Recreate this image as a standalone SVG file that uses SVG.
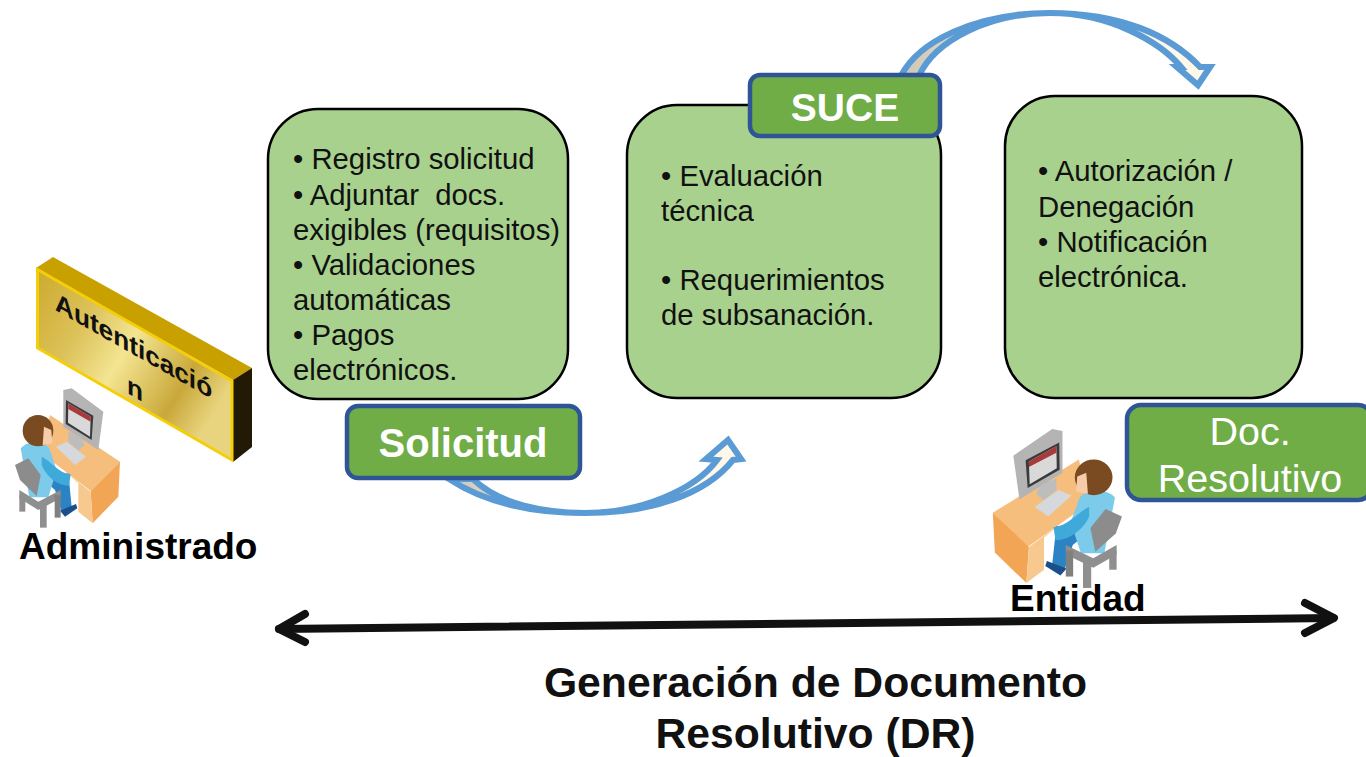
<svg xmlns="http://www.w3.org/2000/svg" xmlns:xlink="http://www.w3.org/1999/xlink" width="1366" height="757" viewBox="0 0 1366 757">
<style>
text{font-family:"Liberation Sans",Arial,sans-serif;white-space:pre}
.box{fill:#A9D18E;stroke:#000;stroke-width:2.5}
.body{font-size:29.3px;fill:#111}
.tag{fill:#70AD47;stroke:#2F5597;stroke-width:4.5}
.tagt{fill:#fff;text-anchor:middle}
.b{font-weight:700}
.lab{font-weight:700;fill:#000;font-size:37px}
.curve{stroke:#5B9BD5;stroke-width:6.2;stroke-linejoin:miter}
.axis{fill:none;stroke:#111;stroke-width:8;stroke-linecap:round;stroke-linejoin:round}
</style>
<defs>
<linearGradient id="gold" x1="0" y1="0" x2="1" y2="0.6">
<stop offset="0" stop-color="#CDAA2E"/><stop offset="0.3" stop-color="#DCC25A"/><stop offset="0.52" stop-color="#F4E592"/><stop offset="0.82" stop-color="#C9A83A"/><stop offset="1" stop-color="#E8D47E"/>
</linearGradient>
<linearGradient id="a1" gradientUnits="userSpaceOnUse" x1="450" y1="480" x2="740" y2="460">
<stop offset="0" stop-color="#CFC8B6"/><stop offset="0.3" stop-color="#E8E2D2"/><stop offset="0.7" stop-color="#FFF8E8"/>
</linearGradient>
<linearGradient id="a2" gradientUnits="userSpaceOnUse" x1="905" y1="70" x2="1200" y2="70">
<stop offset="0" stop-color="#CFC8B6"/><stop offset="0.3" stop-color="#E8E2D2"/><stop offset="0.7" stop-color="#FFF8E8"/>
</linearGradient>
<g id="person">
<polygon points="150,525 360,665 275,755 125,640" fill="#F6BE7C"/>
<polygon points="360,665 355,770 278,850 272,755" fill="#F2A655"/>
<polygon points="190,690 272,755 278,850 235,815 235,730" fill="#F8C98F"/>
<polygon points="190,450 215,445 310,515 295,630 190,560" fill="#B4B4B4"/>
<polygon points="198,480 280,527 275,600 197,552" fill="#3A3A3A"/>
<polygon points="205,490 272,530 270,590 204,548" fill="#D9D9D9"/>
<polygon points="205,490 272,530 272,545 205,507" fill="#A83A3A"/>
<polygon points="205,575 240,590 255,615 235,632 205,605" fill="#BDBDBD"/>
<polygon points="168,620 200,605 258,650 225,675" fill="#D5D8DC"/>
<polygon points="125,715 205,700 215,800 185,815 165,750" fill="#2B83C4"/>
<polygon points="180,812 228,792 232,805 195,830" fill="#1B4F8A"/>
<path d="M62,625 C85,598 132,603 148,625 L170,690 L145,772 L88,772 Z" fill="#7CCBEA"/>
<path d="M125,650 C150,660 175,700 212,703 L207,737 C165,737 135,700 125,675 Z" fill="#3FA9DA"/>
<ellipse cx="114" cy="572" rx="46" ry="47" fill="#7A4A20"/>
<path d="M132,560 L154,570 L157,610 L128,616 Z" fill="#F6CDA8"/>
<polygon points="45,675 85,655 122,705 110,768 60,720" fill="#8C8C8C"/>
<polygon points="58,750 115,785 182,750 182,775 115,810 58,775" fill="#8F8F8F"/>
<rect x="58" y="765" width="18" height="50" fill="#8F8F8F"/>
<rect x="120" y="795" width="20" height="68" fill="#8F8F8F"/>
<rect x="164" y="765" width="18" height="68" fill="#808080"/>
</g>
</defs>
<rect width="1366" height="757" fill="#fff"/>

<g id="connectors">
<path class="curve" fill="url(#a2)" d="M901 76 C918 42 975 13 1050 13 C1120 13 1170 35 1200 67 L1210 67 L1198 85 L1177 67 L1181 67 C1160 42 1110 13 1050 13 C990 13 935 40 919 76 Z"/>
<path class="curve" fill="url(#a1)" d="M449 479 C490 506 540 513 585 513 C650 513 705 495 733 460 L741 459 L728 440 L706 459 L717 460 C695 490 640 513 585 513 C545 513 500 505 473 479 Z"/>
<g id="timeline">
<path class="axis" d="M279 629 L1333 618"/>
<path class="axis" d="M305 614 L279 629 L305 642"/>
<path class="axis" d="M1305 603 L1334 618 L1305 633"/>
</g>
</g>

<g id="node-registro">
<rect class="box" x="268" y="109" width="300" height="290" rx="50"/>
<text class="body" x="293" y="169">• Registro solicitud</text>
<text class="body" x="293" y="205">• Adjuntar  docs.</text>
<text class="body" x="293" y="240">exigibles (requisitos)</text>
<text class="body" x="293" y="275">• Validaciones</text>
<text class="body" x="293" y="310">automáticas</text>
<text class="body" x="293" y="345">• Pagos</text>
<text class="body" x="293" y="380">electrónicos.</text>
</g>
<g id="node-evaluacion">
<rect class="box" x="627" y="105" width="314" height="293" rx="50"/>
<text class="body" x="661" y="186">• Evaluación</text>
<text class="body" x="661" y="221">técnica</text>
<text class="body" x="661" y="290">• Requerimientos</text>
<text class="body" x="661" y="325">de subsanación.</text>
</g>
<g id="node-autorizacion">
<rect class="box" x="1005" y="96" width="297" height="302" rx="50"/>
<text class="body" x="1038" y="181">• Autorización /</text>
<text class="body" x="1038" y="217">Denegación</text>
<text class="body" x="1038" y="252">• Notificación</text>
<text class="body" x="1038" y="287">electrónica.</text>
</g>
<g id="node-suce">
<rect class="tag" x="750" y="75" width="190" height="61" rx="10"/>
<text class="tagt b" x="845" y="121" font-size="39">SUCE</text>
</g>
<g id="node-solicitud">
<rect class="tag" x="347" y="406" width="233" height="72" rx="11"/>
<text class="tagt b" x="463" y="457" font-size="40">Solicitud</text>
</g>
<g id="node-doc">
<rect class="tag" x="1127" y="405" width="245" height="95" rx="14"/>
<text class="tagt" x="1250" y="445" font-size="39.5">Doc.</text>
<text class="tagt" x="1250" y="492" font-size="39.5">Resolutivo</text>
</g>

<g id="node-autenticacion">
<polygon points="53,257 252,368 233,380 36,268" fill="#C8A000"/>
<polygon points="233,380 252,368 252,447 233,462" fill="#231A05"/>
<polygon points="37.500,269.500 232,381 232,460 37.500,348" fill="url(#gold)" stroke="#F5CE0A" stroke-width="3"/>
<g transform="translate(55,310) skewY(29.6)"><text font-size="26.200" font-weight="700" fill="#111">Autenticació</text></g>
<g transform="translate(127,393) skewY(29.6)"><text font-size="26.200" font-weight="700" fill="#111">n</text></g>
</g>

<g id="node-administrado">
<use xlink:href="#person" href="#person" transform="translate(0,240) scale(0.3333)"/>
<text class="lab" x="19" y="559">Administrado</text>
</g>
<g id="node-entidad">
<use xlink:href="#person" href="#person" transform="translate(1140.400,260) scale(-0.41,0.38)"/>
<text class="lab" x="1010" y="611">Entidad</text>
</g>

<g id="caption">
<text x="815.500" y="697" font-size="42.700" font-weight="700" text-anchor="middle" fill="#111">Generación de Documento</text>
<text x="815.500" y="748" font-size="42.700" font-weight="700" text-anchor="middle" fill="#111">Resolutivo (DR)</text>
</g>
</svg>
